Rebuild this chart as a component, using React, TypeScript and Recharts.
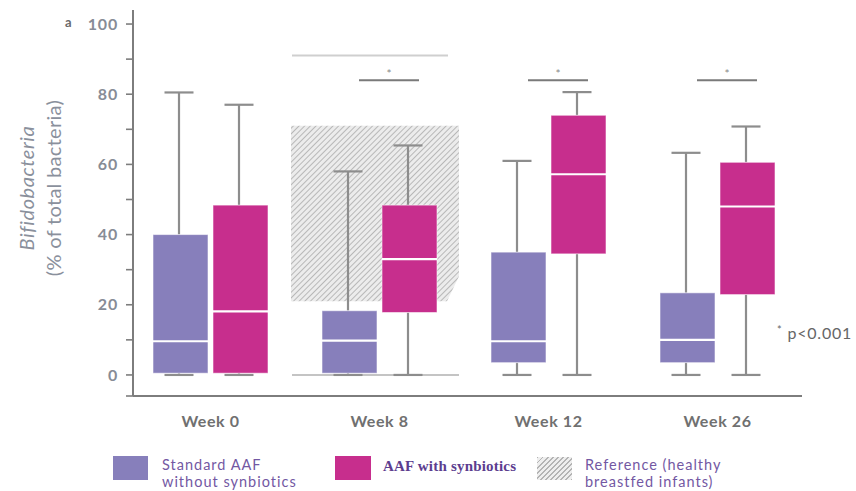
import React from 'react';
import { ComposedChart, Bar, XAxis, YAxis, Legend, Label } from 'recharts';

// Time points
const weeks = ['Week 0', 'Week 8', 'Week 12', 'Week 26'];

// Standard AAF without synbiotics (% of total bacteria)
const standardMin = [0, 0, 0, 0];
const standardQ1 = [0.5, 0.5, 3.5, 3.5];
const standardMedian = [9.6, 9.8, 9.6, 10];
const standardQ3 = [40, 18.3, 35, 23.4];
const standardMax = [80.5, 58, 61, 63.3];

// AAF with synbiotics (% of total bacteria)
const synbioticMin = [0, 0, 0, 0];
const synbioticQ1 = [0.5, 17.8, 34.5, 22.9];
const synbioticMedian = [18.1, 33, 57.2, 48];
const synbioticQ3 = [48.4, 48.4, 74, 60.6];
const synbioticMax = [77, 65.4, 80.6, 70.8];

// Healthy breastfed infants, shown at week 8
const referenceWeek = 'Week 8';
const referenceMin = 0;
const referenceQ1 = 21;
const referenceQ3 = 71;
const referenceMax = 91;

// Between-group significance (p<0.001) and the level of its bracket
const significant = [false, true, true, true];
const significanceLevel = 84;

// Y axis
const yDomain = [-6, 104];
const yTicks = [-6, 0, 10, 20, 30, 40, 50, 60, 70, 80, 90, 100];

const PURPLE = '#877fbb';
const MAGENTA = '#c72e8d';
const WHISKER = '#8d8d8d';
const AXIS = '#7d7d7d';

const data = weeks.map((week, i) => ({
  week,
  standard: {
    min: standardMin[i],
    q1: standardQ1[i],
    median: standardMedian[i],
    q3: standardQ3[i],
    max: standardMax[i],
  },
  synbiotic: {
    min: synbioticMin[i],
    q1: synbioticQ1[i],
    median: synbioticMedian[i],
    q3: synbioticQ3[i],
    max: synbioticMax[i],
  },
  reference:
    week === referenceWeek
      ? { min: referenceMin, q1: referenceQ1, q3: referenceQ3, max: referenceMax }
      : null,
  significant: significant[i],
}));

// Linear value -> pixel mapping recovered from the bar's own [q1, q3] geometry
function valueToY(props: any, lo: number, hi: number) {
  const top = Math.min(props.y, props.y + props.height);
  const h = Math.abs(props.height);
  const ppu = h / (hi - lo);
  return (v: number) => top + (hi - v) * ppu;
}

function makeBoxShape(key: 'standard' | 'synbiotic', color: string) {
  return (props: any) => {
    const { x, width, payload } = props;
    const s = payload[key];
    if (!s) return null;
    const toY = valueToY(props, s.q1, s.q3);
    const cx = x + width / 2 - 1.5;
    const cap = 14.5;
    const yMax = toY(s.max);
    const yMin = toY(s.min);
    const yQ3 = toY(s.q3);
    const yQ1 = toY(s.q1);
    const yMed = toY(s.median);
    const showSig = key === 'synbiotic' && payload.significant;
    const ySig = toY(significanceLevel);
    return (
      <g>
        <line x1={cx} x2={cx} y1={yMax} y2={yQ3} stroke={WHISKER} strokeWidth={2.2} />
        <line x1={cx - cap} x2={cx + cap} y1={yMax} y2={yMax} stroke={WHISKER} strokeWidth={2.2} />
        <line x1={cx} x2={cx} y1={yQ1} y2={yMin} stroke={WHISKER} strokeWidth={2.2} />
        <line x1={cx - cap} x2={cx + cap} y1={yMin} y2={yMin} stroke={WHISKER} strokeWidth={2.2} />
        <rect
          x={x}
          y={yQ3}
          width={width}
          height={yQ1 - yQ3}
          fill={color}
          stroke="#ffffff"
          strokeOpacity={0.55}
          strokeWidth={1}
        />
        <line x1={x} x2={x + width} y1={yMed} y2={yMed} stroke="#ffffff" strokeWidth={2.2} />
        {showSig && (
          <g>
            <line x1={x - 23} x2={x + 37} y1={ySig} y2={ySig} stroke="#7a7a7a" strokeWidth={2} />
            <text
              x={x + 7}
              y={ySig - 2}
              textAnchor="middle"
              fontSize={12}
              fontFamily="Lato, sans-serif"
              fill="#8a8a8a"
            >
              *
            </text>
          </g>
        )}
      </g>
    );
  };
}

const ReferenceShape = (props: any) => {
  const { x, width, payload } = props;
  const r = payload.reference;
  if (!r) return null;
  const toY = valueToY(props, r.q1, r.q3);
  const top = toY(r.q3);
  const bottom = toY(r.q1);
  const left = x - 5;
  const right = x + width - 5;
  const points = [
    `${left},${top}`,
    `${right},${top}`,
    `${right},${bottom - 25}`,
    `${right - 12},${bottom}`,
    `${left},${bottom}`,
  ].join(' ');
  return (
    <g>
      <defs>
        <pattern
          id="refHatch"
          width={4}
          height={4}
          patternUnits="userSpaceOnUse"
          patternTransform="rotate(45)"
        >
          <rect width={4} height={4} fill="#ececec" />
          <line x1={0} y1={0} x2={0} y2={4} stroke="#ababab" strokeWidth={1.6} />
        </pattern>
      </defs>
      <line x1={left + 1} x2={right - 11} y1={toY(r.max)} y2={toY(r.max)} stroke="#cfcfcf" strokeWidth={2} />
      <polygon points={points} fill="url(#refHatch)" />
      <line x1={left + 1} x2={right} y1={toY(r.min)} y2={toY(r.min)} stroke="#c4c4c4" strokeWidth={2} />
    </g>
  );
};

const YLabel = (props: any) => {
  const vb = props.viewBox || { x: 0, y: 10, width: 133, height: 386 };
  const cy = vb.y + vb.height / 2 - 15;
  const x1 = vb.x + 26;
  const x2 = vb.x + 53;
  const common = {
    textAnchor: 'middle' as const,
    dominantBaseline: 'central' as const,
    fontFamily: 'Lato, sans-serif',
    fontSize: 20,
    fill: '#8a909c',
  };
  return (
    <g>
      <text
        x={x1}
        y={cy}
        transform={`rotate(-90 ${x1} ${cy})`}
        fontStyle="italic"
        letterSpacing={0.6}
        {...common}
      >
        Bifidobacteria
      </text>
      <text x={x2} y={cy} transform={`rotate(-90 ${x2} ${cy})`} letterSpacing={0.3} {...common}>
        (% of total bacteria)
      </text>
    </g>
  );
};

const legendText: React.CSSProperties = {
  position: 'absolute',
  fontFamily: 'Lato, sans-serif',
  fontSize: 14.5,
  lineHeight: '17px',
  letterSpacing: 1,
  color: '#7358a3',
  whiteSpace: 'nowrap',
};

const LegendOverlay = () => (
  <div style={{ position: 'relative', width: 856, height: 491, pointerEvents: 'none' }}>
    <div
      style={{
        position: 'absolute',
        left: 65,
        top: 14,
        fontFamily: 'Lato, sans-serif',
        fontWeight: 700,
        fontSize: 13,
        color: '#6a6a6a',
      }}
    >
      a
    </div>
    <div
      style={{
        position: 'absolute',
        left: 777,
        top: 323,
        fontFamily: 'Lato, sans-serif',
        fontSize: 16,
        letterSpacing: 0.8,
        color: '#666666',
        whiteSpace: 'nowrap',
      }}
    >
      <span style={{ fontSize: 11, verticalAlign: 'top' }}>*</span> p&lt;0.001
    </div>

    <div style={{ position: 'absolute', left: 113, top: 456, width: 35, height: 24, background: PURPLE }} />
    <div style={{ ...legendText, left: 162, top: 456 }}>
      Standard AAF
      <br />
      without synbiotics
    </div>

    <div style={{ position: 'absolute', left: 335, top: 456, width: 36, height: 24, background: MAGENTA }} />
    <div
      style={{
        ...legendText,
        left: 383,
        top: 458,
        fontFamily: '"Liberation Serif", serif',
        fontWeight: 700,
        fontSize: 15,
        letterSpacing: 0.2,
        color: '#5c3d8f',
      }}
    >
      AAF with synbiotics
    </div>

    <div
      style={{
        position: 'absolute',
        left: 537,
        top: 457,
        width: 35,
        height: 23,
        background: 'repeating-linear-gradient(135deg, #b4b4b4 0 1.3px, #eeeeee 1.3px 3.6px)',
      }}
    />
    <div style={{ ...legendText, left: 585, top: 456 }}>
      Reference (healthy
      <br />
      breastfed infants)
    </div>
  </div>
);

export default function App() {
  return (
    <div style={{ position: 'absolute', left: 0, top: 0, width: 856, height: 491, background: '#ffffff' }}>
      <ComposedChart
        width={856}
        height={491}
        data={data}
        margin={{ top: 10, right: 54, bottom: 65, left: 0 }}
        barGap={5}
      >
        <XAxis
          dataKey="week"
          padding={{ left: -7, right: 0 }}
          tickLine={false}
          tickSize={0}
          tickMargin={20}
          axisLine={{ stroke: AXIS, strokeWidth: 2 }}
          tick={{ fill: '#707070', fontSize: 16, fontWeight: 700, fontFamily: 'Lato, sans-serif', letterSpacing: 0.6 }}
          interval={0}
        />
        <XAxis xAxisId="ref" dataKey="week" hide padding={{ left: -7, right: 0 }} />
        <YAxis
          type="number"
          domain={yDomain}
          ticks={yTicks}
          interval={0}
          allowDataOverflow
          width={133}
          tickSize={7}
          tickMargin={8}
          axisLine={{ stroke: AXIS, strokeWidth: 2 }}
          tickLine={{ stroke: AXIS, strokeWidth: 1.6 }}
          tick={{ fill: '#878c96', fontSize: 16, fontWeight: 700, fontFamily: 'Lato, sans-serif', letterSpacing: 0.8 }}
          tickFormatter={(v: number) => (v >= 0 && v % 20 === 0 ? String(v) : '')}
        >
          <Label content={<YLabel />} />
        </YAxis>
        <Bar
          xAxisId="ref"
          dataKey={(d: any) => (d.reference ? [d.reference.q1, d.reference.q3] : null)}
          barSize={168}
          shape={ReferenceShape}
          isAnimationActive={false}
          legendType="none"
        />
        <Bar
          dataKey={(d: any) => [d.standard.q1, d.standard.q3]}
          name="Standard AAF without synbiotics"
          fill={PURPLE}
          barSize={55}
          shape={makeBoxShape('standard', PURPLE)}
          isAnimationActive={false}
        />
        <Bar
          dataKey={(d: any) => [d.synbiotic.q1, d.synbiotic.q3]}
          name="AAF with synbiotics"
          fill={MAGENTA}
          barSize={55}
          shape={makeBoxShape('synbiotic', MAGENTA)}
          isAnimationActive={false}
        />
        <Legend
          layout="vertical"
          align="center"
          verticalAlign="middle"
          content={() => <LegendOverlay />}
          wrapperStyle={{ position: 'absolute', left: 0, top: 0, width: 856, height: 491, margin: 0 }}
        />
      </ComposedChart>
    </div>
  );
}
